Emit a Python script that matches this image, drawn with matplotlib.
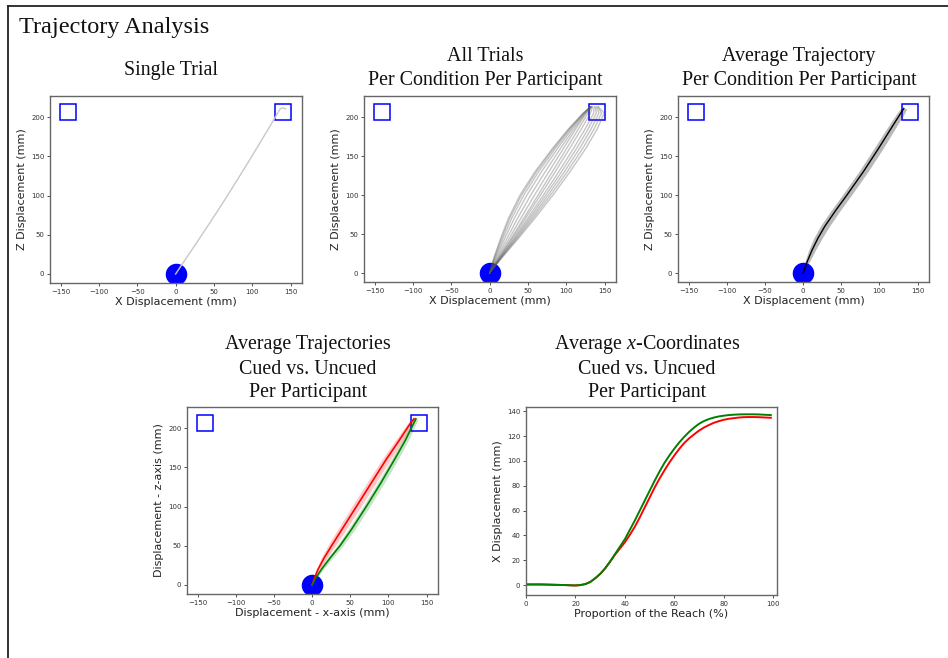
import matplotlib
matplotlib.use('Agg')
import matplotlib.pyplot as plt
from matplotlib.lines import Line2D

# --- Data (all in mm) ---

# start position and the two targets
home_x = [0]
home_z = [0]
target_x = [-140, 140]
target_z = [207, 207]

# single trial
single_z = [0, 20, 40, 60, 80, 100, 120, 140, 160, 180, 200, 208, 211, 211.8, 210.5]
single_x = [0, 13.7, 27.5, 41.1, 54.6, 67.7, 80.5, 93.2, 105.6, 118, 130.1, 134.9,
            136.8, 140.5, 143.5]

# all trials of one condition, on a common z grid
trial_z = [0, 20, 45, 70, 100, 130, 160, 185, 205, 213]
trials_x = [
    [0, 5.7, 14.6, 24.5, 39.7, 59.3, 82.2, 103.1, 122.1, 131.4],
    [0, 6.3, 15.8, 26.2, 41.7, 61.2, 83.7, 104.1, 122.5, 131.4],
    [0, 7.2, 17.6, 28.7, 44.7, 64.0, 85.9, 105.6, 123.1, 131.4],
    [0, 8.4, 20.0, 32.2, 48.7, 67.8, 88.9, 107.6, 123.9, 131.8],
    [0, 9.9, 23.0, 36.4, 53.7, 72.6, 92.7, 110.1, 124.9, 132.3],
    [0, 11.4, 26.0, 40.6, 58.7, 77.4, 96.5, 112.6, 125.9, 133.0],
    [0, 12.6, 28.6, 44.4, 63.3, 82.0, 100.7, 116.1, 128.2, 133.0],
    [0, 13.2, 30.1, 46.7, 66.4, 85.7, 104.7, 120.0, 131.6, 134.3],
    [0, 14.0, 32.0, 49.6, 70.3, 90.3, 109.7, 124.9, 135.9, 136.4],
    [0, 14.6, 33.5, 51.9, 73.4, 94.0, 113.7, 128.8, 139.3, 138.0],
    [0, 15.2, 35.0, 54.2, 76.5, 97.7, 117.7, 132.7, 142.7, 139.6],
    [0, 15.8, 36.5, 56.5, 79.6, 101.4, 121.7, 136.6, 146.1, 141.2],
    [0, 16.4, 38.1, 58.9, 82.8, 105.0, 125.7, 140.6, 149.5, 142.2],
]

# average trajectory of that condition (mean x and sd)
avg_z = [0, 15, 30, 45, 60, 80, 100, 130, 160, 185, 205, 211]
avg_x = [0, 5.5, 12, 19.6, 28.5, 42.5, 57.4, 79, 99, 115, 128, 132]
avg_sd = [0, 3, 4.5, 5.5, 6, 6, 6, 6, 6, 5.5, 5, 4]

# average trajectories of the two conditions (red / green)
cond_z = [0, 10, 20, 35, 50, 70, 100, 130, 160, 185, 205, 212]
red_x = [0, 3.5, 7.8, 16, 25.5, 38.5, 58, 77.5, 97, 114.5, 128, 133.5]
red_sd = [0, 1.5, 2.5, 4, 5, 5.5, 6, 6, 5.5, 5, 4, 3]
green_x = [0, 5.5, 12.3, 24, 36.5, 51, 71, 90, 108, 122.5, 132.5, 136]
green_sd = [0, 1.5, 2.5, 3.5, 4, 4.5, 4.5, 4.5, 4.5, 4, 3.5, 3]

# average x-coordinate over the proportion of the reach (%)
reach_pct = [0, 2, 4, 6, 8, 10, 12, 14, 16, 18, 20, 22, 24, 26, 28, 30, 32, 34,
             36, 38, 40, 42, 44, 46, 48, 50, 52, 54, 56, 58, 60, 62, 64, 66, 68,
             70, 72, 74, 76, 78, 80, 82, 84, 86, 88, 90, 92, 94, 96, 98, 99]
green_prop = [0.5, 0.5, 0.5, 0.5, 0.4, 0.3, 0.2, 0.1, 0, -0.2, -0.3, 0, 0.8, 2.5,
              5.5, 9, 13.5, 19, 25, 31, 37, 44.5, 52, 60, 68, 76, 84, 91.5, 98.5,
              104.5, 110, 115, 119.5, 123.5, 127, 130, 132.2, 133.8, 135, 135.9,
              136.5, 137, 137.3, 137.5, 137.6, 137.6, 137.6, 137.5, 137.3, 137.1, 137]
red_prop = [0.5, 0.5, 0.5, 0.5, 0.4, 0.3, 0.2, 0.1, 0, -0.2, -0.3, 0, 0.8, 2.5,
            5.5, 9, 13.4, 18.8, 24.5, 29.5, 34.5, 40.5, 47, 54.5, 62.5, 70.5, 78.5,
            85.8, 92.5, 98.8, 104.5, 109.8, 114.5, 118.3, 121.5, 124.5, 127, 129,
            130.8, 132.1, 133.2, 134, 134.5, 135, 135.3, 135.4, 135.4, 135.3,
            135.1, 134.9, 134.8]

# --- Figure setup ---

W, H = 948, 658
plt.rcParams['mathtext.fontset'] = 'custom'
plt.rcParams['mathtext.it'] = 'Liberation Serif:italic'
plt.rcParams['mathtext.rm'] = 'Liberation Serif'

fig = plt.figure(figsize=(W / 100, H / 100), dpi=100)


def add_axes_px(left, top, right, bottom):
    """Axes from a pixel box (left, top, right, bottom)."""
    return fig.add_axes([left / W, 1 - bottom / H, (right - left) / W, (bottom - top) / H])


def style_axes(ax, xlabel, ylabel):
    for sp in ax.spines.values():
        sp.set_color('#666666')
        sp.set_linewidth(1.0)
    ax.tick_params(labelsize=5, length=2, width=0.6, pad=2, colors='#333333')
    ax.set_xlabel(xlabel, fontsize=8, labelpad=1.5, color='#222222')
    ax.set_ylabel(ylabel, fontsize=8, labelpad=3, color='#222222')


def traj_axes(ax, xlabel='X Displacement (mm)', ylabel='Z Displacement (mm)'):
    ax.plot(home_x, home_z, 'o', color='blue', markersize=14.5)
    ax.plot(target_x, target_z, 's', mfc='none', mec='blue', markersize=11, mew=1.1)
    ax.set_xlim(-164, 165)
    ax.set_ylim(-11.5, 227)
    ax.set_xticks([-150, -100, -50, 0, 50, 100, 150])
    ax.set_yticks([0, 50, 100, 150, 200])
    style_axes(ax, xlabel, ylabel)


def band(ax, mean, sd, z, color, alpha):
    ax.fill_betweenx(z, [m - s for m, s in zip(mean, sd)],
                     [m + s for m, s in zip(mean, sd)], color=color, alpha=alpha, lw=0)


def panel_title(lines, cx, baselines):
    for txt, yb in zip(lines, baselines):
        fig.text(cx / W, 1 - yb / H, txt, ha='center', va='baseline',
                 fontsize=14.4, family='Liberation Serif', color='#111111')


# outer frame (only top and left edges show)
fig.add_artist(Line2D([8 / W, 8 / W], [0, 1 - 6 / H], color='#222222', lw=1.3,
                      transform=fig.transFigure))
fig.add_artist(Line2D([8 / W, 1], [1 - 6 / H, 1 - 6 / H], color='#222222', lw=1.3,
                      transform=fig.transFigure))

fig.text(19 / W, 1 - 33 / H, 'Trajectory Analysis', ha='left', va='baseline',
         fontsize=17.5, family='Liberation Serif', color='#111111')

# --- Single trial ---
ax1 = add_axes_px(50, 96, 302, 283)
traj_axes(ax1)
ax1.plot(single_x, single_z, color='#c8c8c8', lw=1)
panel_title(['Single Trial'], 171, [75])

# --- All trials ---
ax2 = add_axes_px(364, 96, 616, 282)
traj_axes(ax2)
for tx in trials_x:
    ax2.plot(tx, trial_z, color='#555555', alpha=0.34, lw=1)
panel_title(['All Trials', 'Per Condition Per Participant'], 485, [61, 85])

# --- Average trajectory ---
ax3 = add_axes_px(678, 96, 929, 282)
traj_axes(ax3)
band(ax3, avg_x, avg_sd, avg_z, 'grey', 0.55)
ax3.plot(avg_x, avg_z, color='black', lw=1)
panel_title(['Average Trajectory', 'Per Condition Per Participant'], 799, [61, 85])

# --- Cued vs. uncued trajectories ---
ax4 = add_axes_px(187, 407, 438, 594)
traj_axes(ax4, 'Displacement - x-axis (mm)', 'Displacement - z-axis (mm)')
band(ax4, red_x, red_sd, cond_z, 'red', 0.22)
band(ax4, green_x, green_sd, cond_z, 'green', 0.22)
ax4.plot(red_x, cond_z, color='red', lw=1.2)
ax4.plot(green_x, cond_z, color='green', lw=1.2)
panel_title(['Average Trajectories', 'Cued vs. Uncued', 'Per Participant'], 308,
            [349.5, 373.5, 397.5])

# --- Average x-coordinates ---
ax5 = add_axes_px(526, 407, 777, 595)
ax5.plot(reach_pct, red_prop, color='red', lw=1.4)
ax5.plot(reach_pct, green_prop, color='green', lw=1.4)
ax5.set_xlim(0, 101.5)
ax5.set_ylim(-8, 143.5)
ax5.set_xticks([0, 20, 40, 60, 80, 100])
ax5.set_yticks([0, 20, 40, 60, 80, 100, 120, 140])
style_axes(ax5, 'Proportion of the Reach (%)', 'X Displacement (mm)')
panel_title(['Average $\\mathit{x}$-Coordinates', 'Cued vs. Uncued', 'Per Participant'],
            647, [349.5, 373.5, 397.5])

fig.savefig('out.png', dpi=100)
